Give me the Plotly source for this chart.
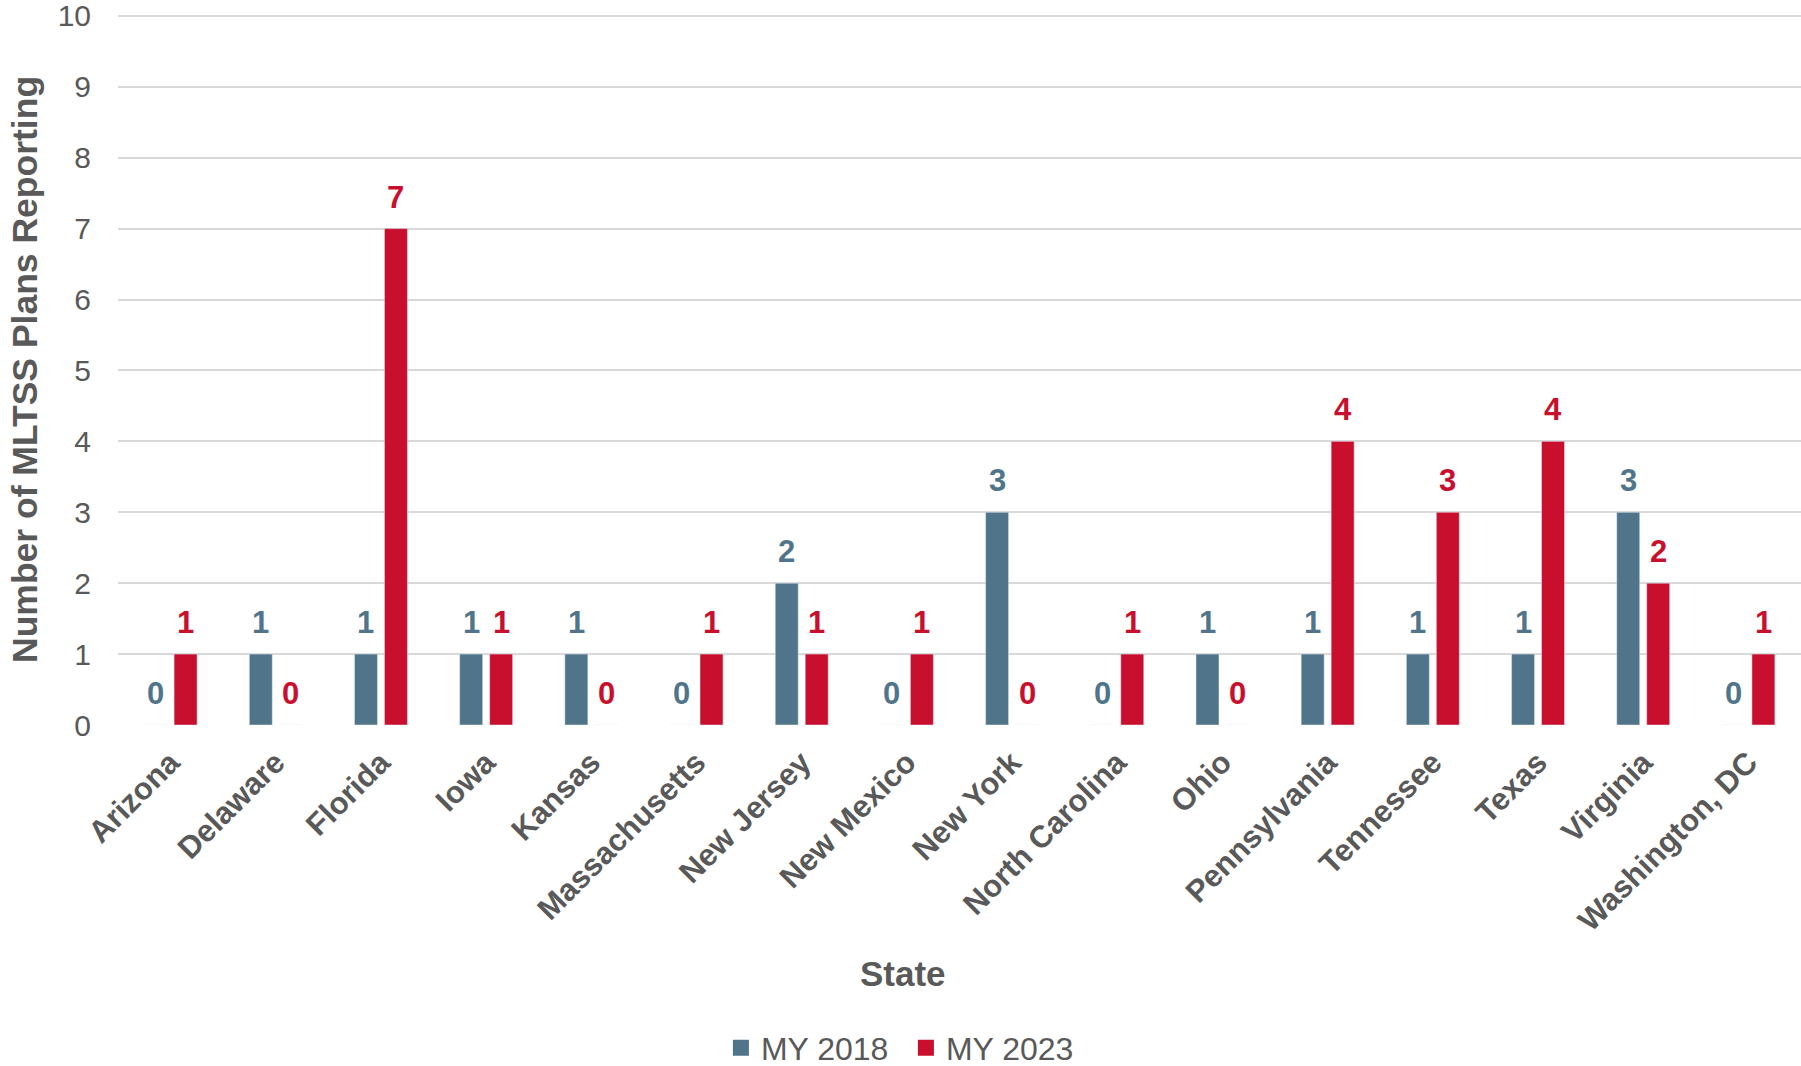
import plotly.graph_objects as go

states = ["Arizona", "Delaware", "Florida", "Iowa", "Kansas", "Massachusetts",
          "New Jersey", "New Mexico", "New York", "North Carolina", "Ohio",
          "Pennsylvania", "Tennessee", "Texas", "Virginia", "Washington, DC"]
my2018 = [0, 1, 1, 1, 1, 0, 2, 0, 3, 0, 1, 1, 1, 1, 3, 0]
my2023 = [1, 0, 7, 1, 0, 1, 1, 1, 0, 1, 0, 4, 3, 4, 2, 1]
series_names = ["MY 2018", "MY 2023"]
y_ticks = list(range(0, 11))

BLUE = "#50758A"
RED = "#C8102E"
GRAY = "#595959"
FONT = "Liberation Sans, Arial, sans-serif"

fig = go.Figure()
for vals, name, color in [(my2018, series_names[0], BLUE), (my2023, series_names[1], RED)]:
    fig.add_trace(go.Bar(x=states, y=vals, name=name, marker_color=color,
                         showlegend=False, legendgroup=name))
# legend entries with larger square swatches
for name, color in [(series_names[0], BLUE), (series_names[1], RED)]:
    fig.add_trace(go.Scatter(x=[None], y=[None], mode="markers", name=name,
                             legendgroup=name,
                             marker=dict(symbol="square", size=17, color=color)))

annotations = []
for vals, color, shift in [(my2018, BLUE, -15), (my2023, RED, 15)]:
    for s, v in zip(states, vals):
        annotations.append(dict(
            x=s, y=v, xref="x", yref="y", text=str(v), showarrow=False,
            xshift=shift, yshift=12, yanchor="bottom", xanchor="center",
            font=dict(family=FONT, size=31, color=color, weight="bold")))

annotations.append(dict(
    x=0.4665, y=(725 - 973) / 712, xref="paper", yref="paper", text="State",
    showarrow=False, xanchor="center", yanchor="middle",
    font=dict(family=FONT, size=35, color=GRAY, weight="bold")))
annotations.append(dict(
    x=(25 - 118) / 1683, y=(725 - 370) / 712, xref="paper", yref="paper",
    text="Number of MLTSS Plans Reporting", textangle=-90,
    showarrow=False, xanchor="center", yanchor="middle",
    font=dict(family=FONT, size=35.5, color=GRAY, weight="bold")))

fig.update_layout(
    width=1801, height=1066,
    margin=dict(l=118, r=0, t=13, b=341),
    paper_bgcolor="white", plot_bgcolor="white",
    barmode="group", bargap=0.43, bargroupgap=0.233,
    font=dict(family=FONT, color=GRAY),
    showlegend=True,
    legend=dict(orientation="h", xref="container", yref="container",
                x=0.503, xanchor="center", y=0.017, yanchor="middle",
                font=dict(family=FONT, size=32, color=GRAY),
                itemwidth=30, entrywidth=140, entrywidthmode="pixels"),
    annotations=annotations,
)
fig.update_xaxes(
    tickangle=-45, showgrid=False, showline=False, zeroline=False,
    tickfont=dict(family=FONT, size=31, color=GRAY, weight="bold"),
    ticklabelstandoff=12,
)
fig.update_yaxes(
    range=[0, 10.04], tickvals=y_ticks, showgrid=True, gridcolor="#D9D9D9",
    gridwidth=1.5, zeroline=False, showline=False,
    tickfont=dict(family=FONT, size=30, color=GRAY),
    ticklabelstandoff=26, ticklabeloverflow="allow",
)

fig.write_html("out.html")
